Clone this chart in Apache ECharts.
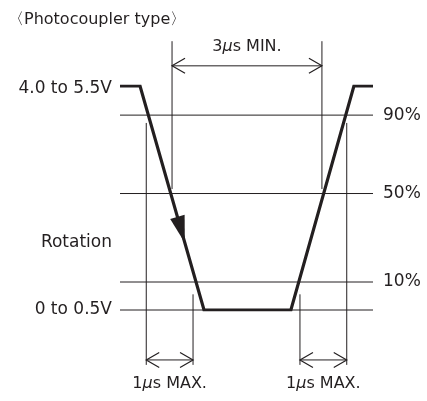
<!DOCTYPE html>
<html>
<head>
<meta charset="utf-8">
<script src="https://cdn.jsdelivr.net/npm/echarts@6/dist/echarts.min.js"></script>
<style>
  html, body { margin: 0; padding: 0; background: #fff; }
  #chart { width: 427px; height: 401px; }
</style>
</head>
<body>
<div id="chart"></div>
<script>
// x = time in us, y = signal level in % of swing (schematic)
var signalT = [0, 0.42, 1.76, 3.58, 4.90, 5.3];
var signalV = [100, 100, 0, 0, 100, 100];

// horizontal reference levels
var levelV = [87, 52, 12.5, 0];
var levelText = ['90%', '50%', '10%', ''];

// vertical guide lines
var guideT = [0.55, 1.09, 1.53, 3.77, 4.23, 4.75];
var guideTop = [83.5, 120, 7, 7, 120, 83.5];
var guideBottom = [-24.5, 54, -24.5, -24.5, 54, -24.5];

// dimension arrows
var dimFrom = [1.09, 0.55, 3.77];
var dimTo = [4.23, 1.53, 4.75];
var dimV = [109, -22.3, -22.3];
var dimText = ['3{mu|μ}s MIN.', '1{mu|μ}s MAX.', '1{mu|μ}s MAX.'];
var dimTextV = [117.5, -33, -33];

// texts left of the plot
var sideText = ['4.0 to 5.5V', 'Rotation', '0 to 0.5V'];
var sideV = [99, 30, 0];

var tMax = 5.3;
var ink = '#231f20';
var font = 'DejaVu Sans';

var segs = [];
levelV.forEach(function (v) { segs.push([0, v, tMax, v]); });
guideT.forEach(function (t, i) { segs.push([t, guideTop[i], t, guideBottom[i]]); });

var dims = dimFrom.map(function (t, i) { return [t, dimTo[i], dimV[i]]; });

var texts = [];
dimText.forEach(function (s, i) {
    texts.push({ value: [(dimFrom[i] + dimTo[i]) / 2, dimTextV[i]], name: s, align: 'center', size: 16 });
});
levelText.forEach(function (s, i) {
    if (s) texts.push({ value: [tMax, levelV[i]], name: s, align: 'left', size: 17 });
});
sideText.forEach(function (s, i) {
    texts.push({ value: [0, sideV[i]], name: s, align: 'right', size: 17 });
});

var chart = echarts.init(document.getElementById('chart'));
chart.setOption({
    animation: false,
    title: {
        text: '\u3008Photocoupler type\u3009',
        left: 3, top: 7,
        textStyle: { fontFamily: font, fontSize: 16, fontWeight: 'normal', color: ink }
    },
    grid: { left: 120, right: 54, top: 86, bottom: 91 },
    xAxis: { type: 'value', min: 0, max: tMax, show: false },
    yAxis: { type: 'value', min: 0, max: 100, show: false },
    series: [
        {
            type: 'custom',
            clip: false,
            data: segs,
            renderItem: function (params, api) {
                var a = api.coord([api.value(0), api.value(1)]);
                var b = api.coord([api.value(2), api.value(3)]);
                return {
                    type: 'line',
                    shape: { x1: a[0], y1: a[1], x2: b[0], y2: b[1] },
                    style: { stroke: ink, lineWidth: 1 }
                };
            }
        },
        {
            type: 'custom',
            clip: false,
            data: dims,
            renderItem: function (params, api) {
                var a = api.coord([api.value(0), api.value(2)]);
                var b = api.coord([api.value(1), api.value(2)]);
                var h = 13, w = 7.5;
                var st = { stroke: ink, lineWidth: 1.2, fill: null };
                return {
                    type: 'group',
                    children: [
                        { type: 'line', shape: { x1: a[0], y1: a[1], x2: b[0], y2: b[1] }, style: { stroke: ink, lineWidth: 1 } },
                        { type: 'polyline', shape: { points: [[a[0] + h, a[1] - w], [a[0], a[1]], [a[0] + h, a[1] + w]] }, style: st },
                        { type: 'polyline', shape: { points: [[b[0] - h, b[1] - w], [b[0], b[1]], [b[0] - h, b[1] + w]] }, style: st }
                    ]
                };
            }
        },
        {
            type: 'line',
            data: signalT.map(function (t, i) { return [t, signalV[i]]; }),
            symbol: 'none',
            lineStyle: { color: ink, width: 3.2, join: 'miter' }
        },
        {
            // filled arrow head on the falling edge
            type: 'custom',
            data: [[signalT[1], signalV[1], signalT[2], signalV[2], 0.7]],
            renderItem: function (params, api) {
                var p = api.coord([api.value(0), api.value(1)]);
                var q = api.coord([api.value(2), api.value(3)]);
                var f = api.value(4);
                var dx = q[0] - p[0], dy = q[1] - p[1];
                var len = Math.sqrt(dx * dx + dy * dy);
                var ux = dx / len, uy = dy / len;
                var tip = [p[0] + dx * f, p[1] + dy * f];
                var L = 27, W = 7.5;
                var base = [tip[0] - ux * L, tip[1] - uy * L];
                return {
                    type: 'polygon',
                    shape: { points: [tip, [base[0] - uy * W, base[1] + ux * W], [base[0] + uy * W, base[1] - ux * W]] },
                    style: { fill: ink }
                };
            }
        },
        {
            type: 'scatter',
            symbolSize: 0,
            clip: false,
            itemStyle: { opacity: 1, color: ink },
            data: texts.map(function (d) {
                return {
                    value: d.value,
                    name: d.name,
                    label: {
                        show: true,
                        position: d.align === 'center' ? 'inside' : (d.align === 'left' ? 'right' : 'left'),
                        distance: d.align === 'left' ? 10 : 8,
                        formatter: d.name,
                        color: ink,
                        fontFamily: font,
                        fontSize: d.size,
                        textBorderWidth: 0,
                        rich: { mu: { fontStyle: 'italic', fontFamily: font, fontSize: d.size, color: ink, textBorderWidth: 0 } }
                    }
                };
            }),
            emphasis: { disabled: true }
        }
    ]
});
</script>
</body>
</html>
